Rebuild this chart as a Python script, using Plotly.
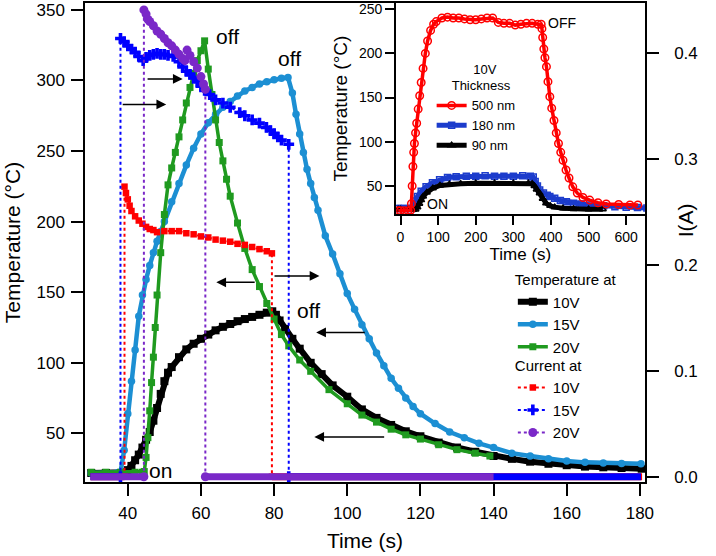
import plotly.graph_objects as go

FONT = "Liberation Sans, Arial, sans-serif"

# ---- main plot: temperature at 10V / 15V / 20V (left axis) ----
t_10v = [30, 34, 38, 39, 40, 41, 42, 43, 44, 45, 46, 47, 48, 49, 50, 51, 52, 54, 56, 58, 60, 62, 64, 66, 68, 70,
         72, 74, 76, 78, 79.5, 80.5, 81.5, 83, 85, 87, 90, 93, 96, 100, 104, 108, 112, 116, 120, 125, 130, 135,
         140, 145, 150, 155, 160, 165, 170, 175, 180.5]
temp_10v = [22, 22, 22, 22.5, 24, 27, 31, 35, 40, 45.5, 51, 59, 68, 78, 87, 93, 97, 104, 109.5, 113.5, 117, 120,
            123, 125.5, 127.5, 129.5, 131, 132.5, 134, 135.5, 136.5, 134, 130, 124, 117, 110, 100, 92, 84, 76, 67,
            61, 56, 51.5, 48, 43.5, 40, 37, 34, 32, 30, 28.5, 27.5, 26.5, 26, 25.5, 25]

t_15v = [30, 34, 37, 38, 39, 40, 41, 42, 43, 44, 45, 46, 47, 48, 49, 50, 52, 54, 56, 58, 60, 62, 64, 66, 68, 70,
         72, 74, 76, 78, 80, 82, 83.8, 85, 86, 87, 88, 89, 90, 91, 92, 94, 96, 98, 100, 102, 104, 106, 108, 110,
         112, 114, 116, 118, 120, 124, 128, 132, 136, 140, 145, 150, 155, 160, 165, 170, 175, 180.3]
temp_15v = [22, 22, 22, 22.5, 38, 64, 87, 109, 133, 148, 159, 169, 178, 186, 193, 200, 214, 227, 240, 252, 262,
            270, 276, 281, 285, 289, 292.5, 295, 297.5, 299, 300.5, 301.5, 302, 291, 276, 262, 249, 237, 227, 217,
            208, 190, 177, 163, 149, 138, 127, 117, 107, 98, 89, 82, 75, 69, 64, 57, 51, 47, 43, 40, 36, 34, 32,
            30.5, 29.5, 29, 28.7, 28.5]

t_20v = [30, 34, 38, 42, 44, 44.5, 45, 45.5, 46, 46.5, 47, 47.5, 48, 49, 50, 51, 52, 53, 54, 55, 56, 57, 58, 59,
         60, 61, 62, 63, 64, 65, 66, 67, 68, 70, 72, 74, 76, 78, 80, 82, 84, 87, 90, 95, 100, 104, 108, 112, 116,
         120, 125, 130, 135, 139]
temp_20v = [22.5, 22.5, 22.5, 22.5, 22.5, 23, 33, 47, 66, 86, 104, 125, 148, 178, 205, 226, 238, 249, 260, 272,
            284, 295, 305, 314, 321, 328, 308, 290, 272, 256, 243, 230, 218, 199, 181, 166, 154, 142, 131, 120, 112,
            102, 94, 81, 71, 63, 58, 53, 49, 46, 42, 38.5, 36, 34]

# ---- main plot: current (right axis) ----
t_i10 = [39.1, 39.5, 40, 40.5, 41, 42, 43, 44, 45, 46, 47, 48, 50, 52, 54, 56, 58, 60, 62, 64, 66, 68, 70, 72, 74,
         76, 78, 79.4]
cur_10v = [0.274, 0.268, 0.262, 0.256, 0.251, 0.246, 0.242, 0.239, 0.236, 0.234, 0.233, 0.231, 0.232, 0.232,
           0.232, 0.230, 0.229, 0.227, 0.226, 0.224, 0.223, 0.222, 0.220, 0.219, 0.217, 0.215, 0.213, 0.211]

t_i15 = [38.0, 39, 40, 41, 42, 43, 44.2, 45, 46, 47, 48, 49, 50, 51, 52.4, 54, 55, 56, 57, 58, 59, 60, 61, 62.4,
         64, 66, 68, 70.6, 72, 74, 76, 77.9, 79, 80, 81, 82, 84.0]
cur_15v = [0.414, 0.411, 0.407, 0.404, 0.401, 0.397, 0.393, 0.396, 0.398, 0.399, 0.400, 0.399, 0.399, 0.398,
           0.397, 0.392, 0.387, 0.383, 0.380, 0.377, 0.373, 0.369, 0.365, 0.361, 0.356, 0.353, 0.349, 0.344,
           0.341, 0.337, 0.334, 0.330, 0.327, 0.324, 0.321, 0.318, 0.314]

t_i20 = [44.4, 45, 45.5, 46, 47, 48, 49, 50, 51, 52, 53, 54, 55, 55.6, 56.2, 57, 58, 59, 60, 60.7, 61.2]
cur_20v = [0.441, 0.437, 0.432, 0.430, 0.426, 0.421, 0.418, 0.414, 0.410, 0.407, 0.403, 0.399, 0.395, 0.393,
           0.403, 0.398, 0.392, 0.386, 0.378, 0.371, 0.366]

# recording start / end times (current is zero outside the "on" window)
rec_start = 29.8
rec_end = {"10V": 180.6, "15V": 180.3, "20V": 140}

# ---- inset: 10V, different thickness ----
t_500 = [-6, 0, 10, 20, 27, 29, 31, 33, 35, 37, 40, 43, 47, 51, 55, 60, 66, 72, 80, 88, 95, 110, 125, 140, 155,
         170, 185, 200, 215, 230, 245, 260, 275, 290, 305, 320, 335, 350, 365, 374, 376, 378, 381, 384, 388, 392,
         397, 402, 408, 414, 420, 426, 432, 440, 448, 458, 470, 485, 503, 525, 547, 580, 610, 631]
temp_500 = [22, 22, 22, 22, 22.5, 30, 50, 72, 88, 98, 110, 121, 137, 152, 167, 183, 200, 214, 226, 233, 236, 240,
            241, 240, 240, 239, 238, 238, 239, 240, 240, 235, 234, 234, 232, 233, 234, 234, 233, 233, 228, 218,
            205, 195, 185, 168, 151, 138, 124, 110, 98, 88, 79, 68, 59, 49, 42, 37, 34, 31, 29.6, 29, 28.5, 28.5]

t_180 = [-6, 0, 10, 20, 30, 35, 40, 45, 55, 68, 85, 104, 125, 148, 175, 200, 225, 250, 275, 300, 325, 345, 353,
         358, 364, 370, 380, 390, 397, 410, 425, 441, 460, 480, 503, 540, 570, 600, 630, 655]
temp_180 = [24.5, 24.5, 24.5, 24.5, 24.5, 27, 33, 38, 44, 49, 53.5, 57, 59.5, 60.5, 61, 61, 61.5, 61, 61, 61, 61.5,
            61, 60, 55, 50, 45.5, 42, 39.5, 38, 36, 33.5, 32, 30.5, 29.5, 28.5, 27.5, 26.5, 26, 25.5, 25]

t_90 = [-6, 0, 20, 40, 45, 50, 55, 60, 70, 86, 105, 130, 160, 200, 250, 300, 340, 350, 356, 362, 370, 378, 387,
        398, 410, 432, 460, 500, 538]
temp_90 = [23.5, 23.5, 23.5, 23.5, 26, 30, 34, 38, 42.5, 47.4, 50.5, 52, 52.5, 53, 53, 53, 53, 52.5, 50, 46, 41.7,
           35.5, 30.4, 27.5, 26, 24.8, 24, 23.6, 23.6]

C_BLACK = "#000000"
C_LBLUE = "#1c8fd3"
C_GREEN = "#1f9a1f"
C_RED = "#ff0000"
C_BLUE = "#0000ff"
C_PURPLE = "#7a28c8"
C_INSET_BLUE = "#1c3ccc"

fig = go.Figure()

# temperature traces
fig.add_trace(go.Scatter(x=t_10v, y=temp_10v, name="10V", mode="lines+markers", legend="legend",
                         line=dict(color=C_BLACK, width=6),
                         marker=dict(symbol="square", size=8, color=C_BLACK)))
fig.add_trace(go.Scatter(x=t_15v, y=temp_15v, name="15V", mode="lines+markers", legend="legend",
                         line=dict(color=C_LBLUE, width=4.5),
                         marker=dict(symbol="circle", size=7.5, color=C_LBLUE)))
fig.add_trace(go.Scatter(x=t_20v, y=temp_20v, name="20V", mode="lines+markers", legend="legend",
                         line=dict(color=C_GREEN, width=3.5),
                         marker=dict(symbol="square", size=7, color=C_GREEN)))

# current traces: zero baseline (thick) + on-window (dotted with markers)
currents = [("10V", t_i10, cur_10v, C_RED, "square", 6.5),
            ("15V", t_i15, cur_15v, C_BLUE, "cross", 9),
            ("20V", t_i20, cur_20v, C_PURPLE, "circle", 9)]
for name, tt, ii, col, sym, sz in currents:
    fig.add_trace(go.Scatter(x=[rec_start, tt[0], None, tt[-1], rec_end[name]], y=[0, 0, None, 0, 0],
                             yaxis="y2", mode="lines", showlegend=False,
                             line=dict(color=col, width=7)))
    fig.add_trace(go.Scatter(x=[tt[0]] + tt + [tt[-1]], y=[0] + ii + [0], yaxis="y2", name=name,
                             mode="lines+markers", legend="legend2",
                             line=dict(color=col, width=2, dash="dot"),
                             marker=dict(symbol=sym, size=sz, color=col)))

# inset traces
fig.add_trace(go.Scatter(x=t_180, y=temp_180, name="180 nm", xaxis="x2", yaxis="y3", legend="legend3",
                         legendrank=2, mode="lines+markers",
                         line=dict(color=C_INSET_BLUE, width=5),
                         marker=dict(symbol="square-open", size=6, line=dict(width=1.5, color=C_INSET_BLUE))))
fig.add_trace(go.Scatter(x=t_90, y=temp_90, name="90 nm", xaxis="x2", yaxis="y3", legend="legend3",
                         legendrank=3, mode="lines+markers",
                         line=dict(color=C_BLACK, width=5),
                         marker=dict(symbol="triangle-up-open", size=6, line=dict(width=1.5, color=C_BLACK))))
fig.add_trace(go.Scatter(x=t_500, y=temp_500, name="500 nm", xaxis="x2", yaxis="y3", legend="legend3",
                         legendrank=1, mode="lines+markers",
                         line=dict(color=C_RED, width=3.5),
                         marker=dict(symbol="circle-open", size=7.5, line=dict(width=1.5, color=C_RED))))

# arrows (tail -> head) in main-plot data coordinates
arrows = [(38.2, 50.5, 283), (45, 55, 301), (75.1, 64.2, 157), (79.7, 92.4, 161.5),
          (105.2, 91.5, 121.5), (110.5, 91, 47.5)]
for x0, x1, yv in arrows:
    fig.add_annotation(x=x1, y=yv, ax=x0, ay=yv, xref="x", yref="y", axref="x", ayref="y",
                       text="", showarrow=True, arrowhead=2, arrowsize=1.3, arrowwidth=1.5,
                       arrowcolor="black")

labels = [("off", 63.7, 331), ("off", 80.5, 315.5), ("off", 85.6, 137), ("on", 45.3, 24)]
for txt, xv, yv in labels:
    fig.add_annotation(x=xv, y=yv, xref="x", yref="y", text=txt, showarrow=False,
                       xanchor="left", yanchor="middle", font=dict(size=21, color="black"))

fig.add_annotation(x=388, y=234, xref="x2", yref="y3", text="OFF", showarrow=False,
                   xanchor="left", yanchor="middle", font=dict(size=14, color="black"))
fig.add_annotation(x=64, y=29.6, xref="x2", yref="y3", text="ON", showarrow=False,
                   xanchor="left", yanchor="middle", font=dict(size=14, color="black"))

# right axis title, placed by hand so it sits close to the tick labels
fig.add_annotation(x=1.098, y=0.547, xref="paper", yref="paper", text="I(A)", textangle=-90,
                   showarrow=False, font=dict(size=21, color="black"))

axis_common = dict(showline=True, linecolor="black", linewidth=1.5, ticks="outside", tickcolor="black",
                   tickwidth=1.5, showgrid=False, zeroline=False, automargin=False)

nb = "&nbsp;"
fig.update_layout(
    width=716, height=556,
    margin=dict(l=85, r=71, t=3, b=74),
    paper_bgcolor="white", plot_bgcolor="white",
    font=dict(family=FONT, color="black", size=17),
    xaxis=dict(axis_common, domain=[0, 1], range=[28.3, 181.4], dtick=20, ticklen=12, mirror=True,
               ticklabelstandoff=3, tickfont=dict(size=17),
               title=dict(text="Time (s)", font=dict(size=21), standoff=11)),
    yaxis=dict(axis_common, domain=[0, 1], range=[15.6, 354.8], dtick=50, ticklen=12, mirror=True,
               ticklabelstandoff=3, tickfont=dict(size=17),
               title=dict(text="Temperature (°C)", font=dict(size=21), standoff=10)),
    yaxis2=dict(axis_common, overlaying="y", side="right", anchor="x", range=[-0.005, 0.4475], dtick=0.1,
                tickformat=".1f", ticklen=12, ticklabelstandoff=12, tickfont=dict(size=17)),
    xaxis2=dict(axis_common, domain=[0.555, 1.0], anchor="y3", range=[-12.5, 650], dtick=100, ticklen=9,
                mirror=True, tickfont=dict(size=14),
                title=dict(text="Time (s)", font=dict(size=17), standoff=4)),
    yaxis3=dict(axis_common, domain=[0.559, 1.0], anchor="x2", range=[18, 257], dtick=50, ticklen=9,
                mirror=True, tickfont=dict(size=14),
                title=dict(text="Temperature (°C)", font=dict(size=19), standoff=6)),
    legend=dict(title=dict(text="Temperature at", font=dict(size=15)), font=dict(size=15),
                x=0.764, y=0.451, xanchor="left", yanchor="top", bgcolor="rgba(0,0,0,0)",
                itemwidth=30, tracegroupgap=0),
    legend2=dict(title=dict(text="Current at", font=dict(size=15)), font=dict(size=15),
                 x=0.764, y=0.272, xanchor="left", yanchor="top", bgcolor="rgba(0,0,0,0)",
                 itemwidth=30, tracegroupgap=0),
    legend3=dict(title=dict(text=nb * 11 + "10V<br>" + nb * 5 + "Thickness", font=dict(size=13)),
                 font=dict(size=13), x=0.619, y=0.888, xanchor="left", yanchor="top",
                 bgcolor="rgba(0,0,0,0)", itemwidth=30, tracegroupgap=0),
    showlegend=True,
)

fig.write_html("out.html", config={"displayModeBar": False},
               post_script="document.body.style.margin='0';")
